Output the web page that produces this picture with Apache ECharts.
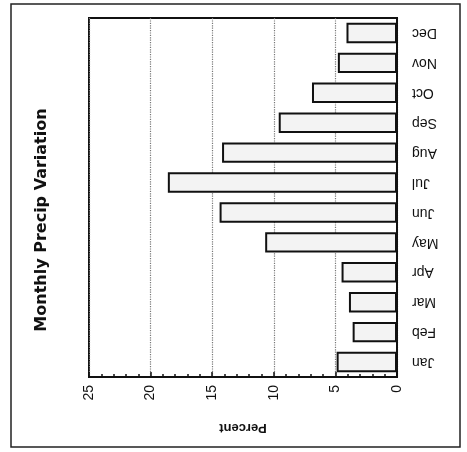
<!DOCTYPE html>
<html><head><meta charset="utf-8">
<script src="https://cdn.jsdelivr.net/npm/echarts@6/dist/echarts.min.js"></script>
<style>html,body{margin:0;padding:0;background:#fff}#c{width:467px;height:452px}</style>
</head><body><div id="c"></div>
<script>
var months = ['Jan','Feb','Mar','Apr','May','Jun','Jul','Aug','Sep','Oct','Nov','Dec'];
var percent = [4.9, 3.6, 3.9, 4.5, 10.7, 14.4, 18.6, 14.2, 9.6, 6.9, 4.8, 4.1];
var titleText = 'Monthly Precip Variation';
var axisName = 'Percent';

var chart = echarts.init(document.getElementById('c'), null, {renderer:'canvas'});
chart.setOption({
  animation:false,
  backgroundColor:'#fff',
  graphic:[
    {type:'rect', shape:{x:11,y:4,width:449,height:443}, style:{fill:'none',stroke:'#222',lineWidth:1.5}},
    {type:'text', x:42, y:220, rotation:Math.PI/2,
     style:{text:titleText, font:'bold 16px "DejaVu Sans"', fill:'#111', align:'center', verticalAlign:'middle'}}
  ],
  grid:{left:89, right:70, top:18, bottom:75, show:true, borderColor:'#111', borderWidth:2, backgroundColor:'transparent'},
  xAxis:{
    type:'value', inverse:true, min:0, max:25, interval:5, position:'bottom',
    name:axisName, nameLocation:'middle', nameGap:44, nameRotate:180,
    nameTextStyle:{fontFamily:'Liberation Sans', fontWeight:'bold', fontSize:13, color:'#111'},
    axisLine:{show:true, lineStyle:{color:'#111', width:2}},
    axisTick:{show:true, inside:true, length:5, lineStyle:{color:'#111', width:1.5}},
    minorTick:{show:true, splitNumber:5, length:3, lineStyle:{color:'#111', width:1.5}},
    axisLabel:{rotate:90, margin:8, fontFamily:'Liberation Sans', fontSize:14, color:'#111'},
    splitLine:{show:true, lineStyle:{color:'#777', type:'dotted', width:1.2}}
  },
  yAxis:{
    type:'category', data:months, position:'right',
    axisLine:{show:true, lineStyle:{color:'#111', width:2}},
    axisTick:{show:false},
    axisLabel:{rotate:180, margin:15, fontFamily:'Liberation Sans', fontSize:14, color:'#111'},
    splitLine:{show:false}
  },
  series:[{
    type:'bar', data:percent, barWidth:'68%',
    itemStyle:{color:'#f3f3f3', borderColor:'#111', borderWidth:2}
  }]
});
</script></body></html>
